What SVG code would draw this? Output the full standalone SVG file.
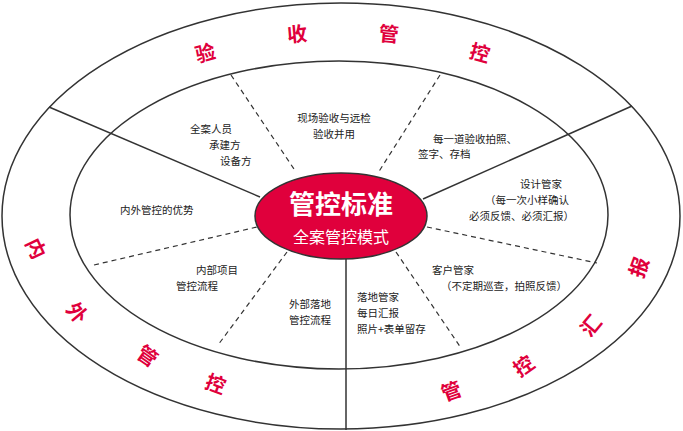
<svg xmlns="http://www.w3.org/2000/svg" width="683" height="431" viewBox="0 0 683 431">
<style>
.e{fill:none;stroke:#333;stroke-width:1.5}
.s{stroke:#333;stroke-width:1.5}
.d{stroke:#333;stroke-width:1.2;stroke-dasharray:5 4}
.t{font-family:"Noto Sans CJK SC",sans-serif;font-size:10.5px;fill:#222}
.r{font-family:"Noto Sans CJK SC",sans-serif;font-size:20px;font-weight:bold;fill:#e0003c;text-anchor:middle;dominant-baseline:central}
</style>
<rect width="683" height="431" fill="#fff"/>
<g id="rings">
<ellipse class="e" cx="341" cy="216" rx="339" ry="213"/>
<ellipse class="e" cx="339" cy="215" rx="269" ry="154"/>
</g>
<g id="connectors">
<line class="s" x1="49" y1="107" x2="260" y2="197"/>
<line class="s" x1="632" y1="106" x2="423" y2="199"/>
<line class="s" x1="346" y1="259" x2="346" y2="430"/>
<line class="d" x1="231" y1="75" x2="296" y2="172"/>
<line class="d" x1="440" y1="75" x2="378" y2="173"/>
<line class="d" x1="94" y1="265" x2="257" y2="227"/>
<line class="d" x1="427" y1="227" x2="597" y2="263"/>
<line class="d" x1="287" y1="252" x2="218" y2="345"/>
<line class="d" x1="396" y1="252" x2="461" y2="348"/>
</g>
<g id="center">
<ellipse cx="341" cy="216" rx="86" ry="43" fill="#e0003c" stroke="#333" stroke-width="1.5"/>
<text x="341" y="214" text-anchor="middle" font-family="Noto Sans CJK SC,sans-serif" font-size="26" font-weight="bold" fill="#fff">管控标准</text>
<text x="341" y="243" text-anchor="middle" font-family="Noto Sans CJK SC,sans-serif" font-size="16" fill="#fff">全案管控模式</text>
</g>
<g id="labels">
<text class="t" x="334" y="122" text-anchor="middle">现场验收与远检</text>
<text class="t" x="334" y="138" text-anchor="middle">验收并用</text>
<text class="t" x="190" y="133">全案人员</text>
<text class="t" x="209" y="149">承建方</text>
<text class="t" x="220" y="165">设备方</text>
<text class="t" x="433" y="143">每一道验收拍照、</text>
<text class="t" x="418" y="158">签字、存档</text>
<text class="t" x="520" y="188">设计管家</text>
<text class="t" x="485" y="204">（每一次小样确认</text>
<text class="t" x="469" y="220">必须反馈、必须汇报）</text>
<text class="t" x="120" y="214">内外管控的优势</text>
<text class="t" x="196" y="274">内部项目</text>
<text class="t" x="176" y="290">管控流程</text>
<text class="t" x="289" y="308">外部落地</text>
<text class="t" x="289" y="324">管控流程</text>
<text class="t" x="357" y="301">落地管家</text>
<text class="t" x="357" y="317">每日汇报</text>
<text class="t" x="357" y="333">照片+表单留存</text>
<text class="t" x="432" y="274">客户管家</text>
<text class="t" x="441" y="290">（不定期巡查，拍照反馈）</text>
</g>
<g id="ring-text">
<text class="r" transform="translate(205,52) rotate(-15)">验</text>
<text class="r" transform="translate(297,33) rotate(-5)">收</text>
<text class="r" transform="translate(389,33) rotate(5)">管</text>
<text class="r" transform="translate(480,52) rotate(15)">控</text>
<text class="r" transform="translate(37,248) rotate(65)">内</text>
<text class="r" transform="translate(78,312) rotate(50)">外</text>
<text class="r" transform="translate(148,355) rotate(35)">管</text>
<text class="r" transform="translate(216,383) rotate(20)">控</text>
<text class="r" transform="translate(451,390) rotate(-20)">管</text>
<text class="r" transform="translate(523,365) rotate(-35)">控</text>
<text class="r" transform="translate(590,325) rotate(-50)">汇</text>
<text class="r" transform="translate(638,267) rotate(-70)">报</text>
</g>
</svg>
